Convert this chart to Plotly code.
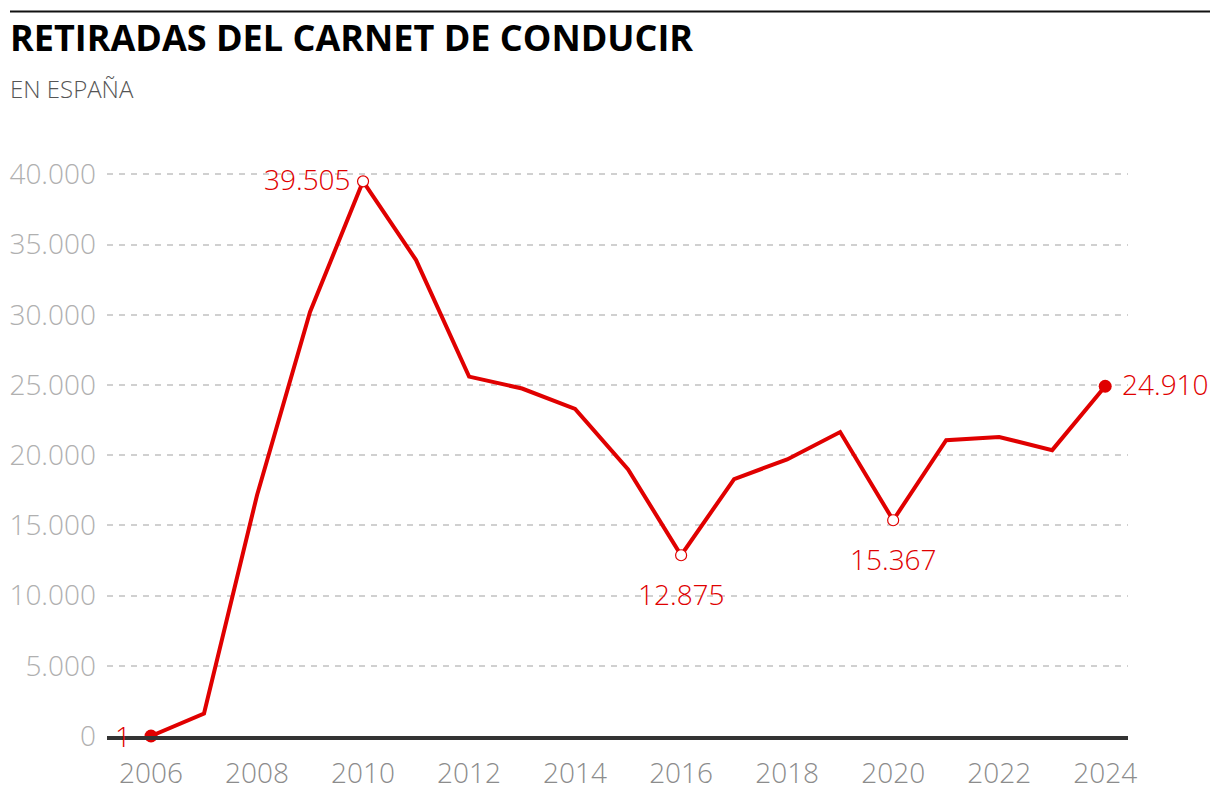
import plotly.graph_objects as go

# Retiradas del carnet de conducir en España, por año
years = list(range(2006, 2025))
retiradas = [1, 1600, 17150, 30200, 39505, 33900, 25600, 24750, 23300, 18980,
             12875, 18300, 19700, 21650, 15367, 21070, 21300, 20360, 24910]

# Puntos destacados
open_years = [2010, 2016, 2020]
filled_years = [2006, 2024]

y_ticks = [0, 5000, 10000, 15000, 20000, 25000, 30000, 35000, 40000]
x_ticks = list(range(2006, 2025, 2))

RED = "#e00000"
Y_TOP = 40100


def fmt(v):
    return f"{v:,}".replace(",", ".")


# pixel -> paper helpers (plot area: x 107..1128, y 736..174)
def px(x):
    return (x - 107) / 1021


def py(y):
    return (736 - y) / (562 * Y_TOP / 40000)


val = dict(zip(years, retiradas))

fig = go.Figure()

fig.add_trace(go.Scatter(
    x=years, y=retiradas, mode="lines",
    line=dict(color=RED, width=4),
    hoverinfo="skip", cliponaxis=False,
))

fig.add_trace(go.Scatter(
    x=open_years, y=[val[y] for y in open_years], mode="markers",
    marker=dict(size=11, color="white", line=dict(color=RED, width=1.2)),
    cliponaxis=False,
))

fig.add_trace(go.Scatter(
    x=filled_years, y=[val[y] for y in filled_years], mode="markers",
    marker=dict(size=13, color=RED),
    cliponaxis=False,
))

# etiquetas de valores
label_pos = {
    2006: dict(xanchor="right", yanchor="middle", xshift=-18, yshift=0),
    2010: dict(xanchor="right", yanchor="middle", xshift=-10, yshift=2),
    2016: dict(xanchor="center", yanchor="middle", xshift=0, yshift=-39),
    2020: dict(xanchor="center", yanchor="middle", xshift=0, yshift=-39),
    2024: dict(xanchor="left", yanchor="middle", xshift=15, yshift=2),
}
for yr, pos in label_pos.items():
    fig.add_annotation(
        x=yr, y=val[yr], text=fmt(val[yr]), showarrow=False,
        font=dict(family="Open Sans", size=28, color=RED, weight=300),
        **pos,
    )

# linea superior, titulo y subtitulo
fig.add_shape(type="line", xref="paper", yref="paper",
              x0=px(10), x1=px(1210), y0=py(11), y1=py(11),
              line=dict(color="#111111", width=2))

fig.add_annotation(
    x=px(8), y=py(37), xref="paper", yref="paper",
    xanchor="left", yanchor="middle", showarrow=False,
    text="<b>RETIRADAS DEL CARNET DE CONDUCIR</b>",
    font=dict(family="Open Sans", size=36, color="#000000", weight=800),
)
fig.add_annotation(
    x=px(8), y=py(88), xref="paper", yref="paper",
    xanchor="left", yanchor="middle", showarrow=False,
    text="EN ESPAÑA",
    font=dict(family="Open Sans", size=24, color="#555555", weight=300),
)

fig.update_layout(
    width=1220, height=802,
    margin=dict(l=99, r=100, t=165, b=74),
    plot_bgcolor="white", paper_bgcolor="white",
    showlegend=False,
    separators=",.",
    font=dict(family="Open Sans"),
    xaxis=dict(
        range=[2005.17, 2024.43],
        tickvals=x_ticks,
        showgrid=False, zeroline=False, automargin=False,
        showline=True, linecolor="#333333", linewidth=3.5,
        ticks="", ticklabelstandoff=10,
        tickfont=dict(family="Open Sans", size=28, color="#8c8c8c", weight=300),
    ),
    yaxis=dict(
        range=[0, Y_TOP],
        tickvals=y_ticks, tickformat=",d",
        showgrid=True, gridcolor="#d0d0d0", gridwidth=2, griddash="6px,6px",
        zeroline=False, showline=False, automargin=False,
        ticks="", ticklabelstandoff=10,
        tickfont=dict(family="Open Sans", size=28, color="#b0b0b0", weight=300),
    ),
)

fig.write_html("out.html")
